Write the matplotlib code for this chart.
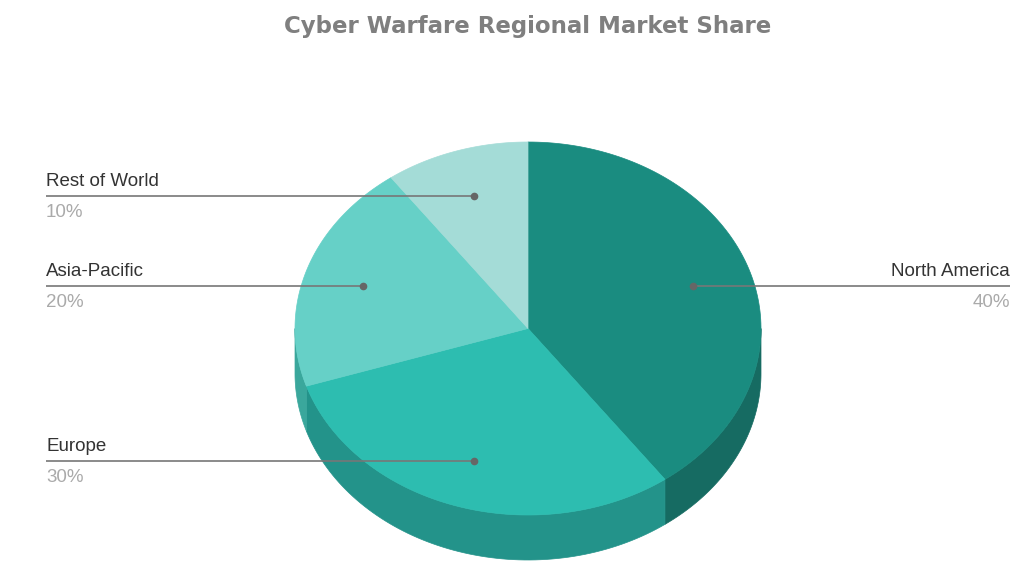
import numpy as np
import matplotlib.pyplot as plt
from matplotlib.patches import Polygon

# Data
regions = ["North America", "Europe", "Asia-Pacific", "Rest of World"]
shares = [40, 30, 20, 10]
top_colors = ["#1a8c80", "#2dbdb0", "#66d0c7", "#a4dcd7"]
side_colors = ["#166b62", "#23938a", "#3aa79c", "#7fc4bd"]

# Layout (pixel space)
cx, cy = 528, 328.5
rx, ry = 233, 186.5
depth = 45
label_r = 0.745

fig = plt.figure(figsize=(10.24, 5.73), dpi=100)
ax = fig.add_axes([0, 0, 1, 1])
ax.set_xlim(0, 1024)
ax.set_ylim(573, 0)
ax.axis("off")


def pt(t, r=1.0, dy=0.0):
    # t in degrees, clockwise from 12 o'clock
    a = np.radians(t)
    return cx + r * rx * np.sin(a), cy - r * ry * np.cos(a) + dy


bounds = np.concatenate([[0], np.cumsum(shares)]) / sum(shares) * 360

# side walls (front half only: 90..270)
for i in range(len(shares)):
    a0, a1 = max(bounds[i], 90), min(bounds[i + 1], 270)
    if a1 <= a0:
        continue
    ts = np.linspace(a0, a1, 80)
    topx, topy = pt(ts)
    botx, boty = pt(ts[::-1], dy=depth)
    verts = np.column_stack([np.concatenate([topx, botx]), np.concatenate([topy, boty])])
    ax.add_patch(Polygon(verts, closed=True, facecolor=side_colors[i], edgecolor=side_colors[i], lw=0.5))

# top faces
for i in range(len(shares)):
    ts = np.linspace(bounds[i], bounds[i + 1], 120)
    x, y = pt(ts)
    verts = np.column_stack([np.concatenate([[cx], x]), np.concatenate([[cy], y])])
    ax.add_patch(Polygon(verts, closed=True, facecolor=top_colors[i], edgecolor=top_colors[i], lw=0.5))

# labels
for i, (name, val) in enumerate(zip(regions, shares)):
    mid = (bounds[i] + bounds[i + 1]) / 2
    dx, dy = pt(mid, r=label_r)
    if np.sin(np.radians(mid)) >= 0:
        x_end, ha = 1010, "right"
    else:
        x_end, ha = 46, "left"
    ax.plot([dx, x_end], [dy, dy], color="#777777", lw=1.2, solid_capstyle="butt")
    ax.plot(dx, dy, "o", color="#666666", ms=4.5)
    ax.text(x_end, dy - 6, name, ha=ha, va="bottom", fontsize=13.5,
            color="#333333", family="Liberation Sans")
    ax.text(x_end, dy + 8, f"{val}%", ha=ha, va="top", fontsize=13.5,
            color="#aaaaaa", family="Liberation Sans")

fig.text(528 / 1024, 1 - 26 / 573, "Cyber Warfare Regional Market Share",
         ha="center", va="center", fontsize=16.5, fontweight="bold",
         color="#7f7f7f", family="DejaVu Sans")

fig.savefig("out.png", dpi=100, facecolor="white")
